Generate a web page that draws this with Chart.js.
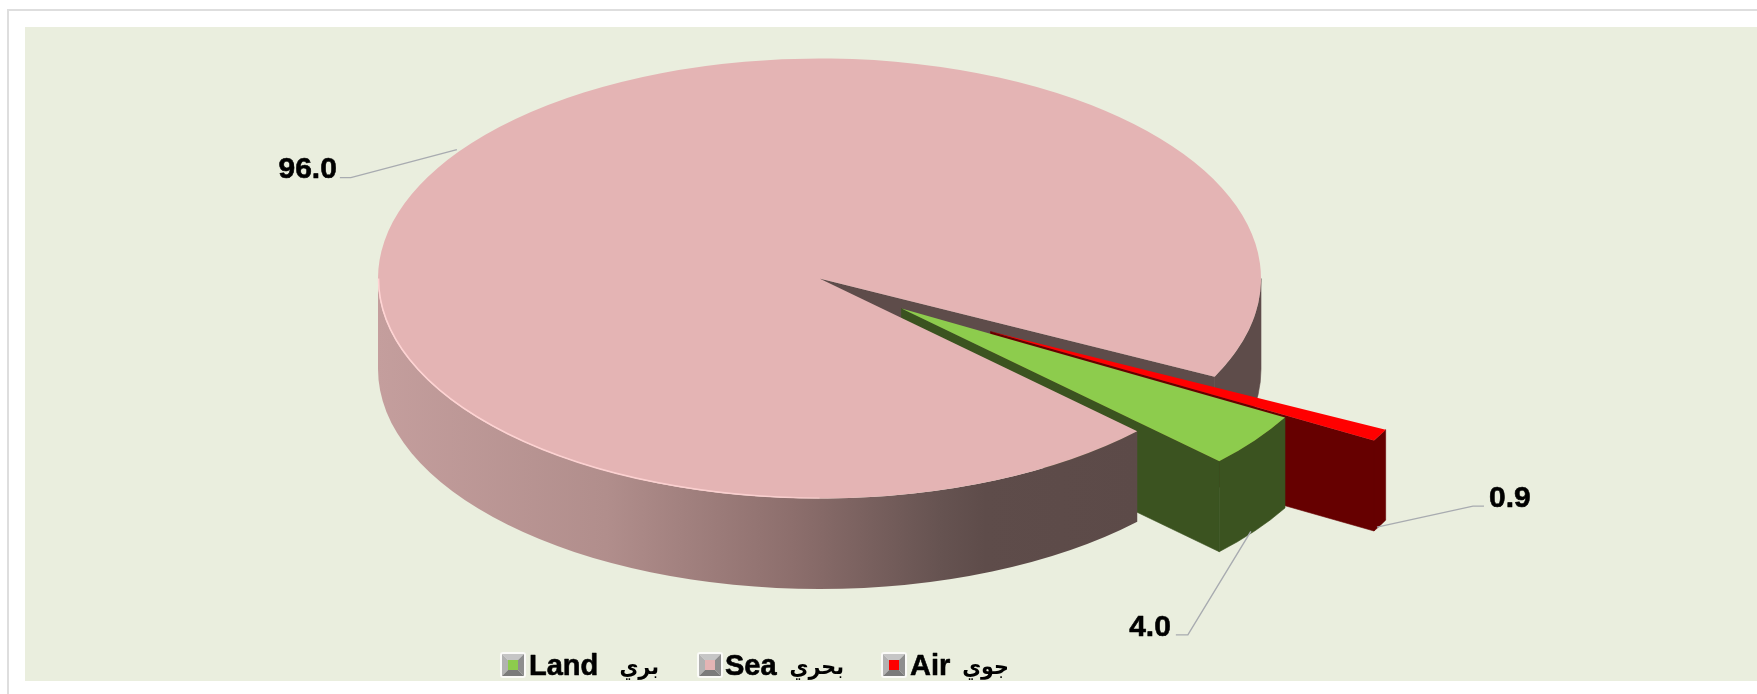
<!DOCTYPE html>
<html lang="ar">
<head>
<meta charset="utf-8">
<style>
html,body{margin:0;padding:0;width:1757px;height:694px;background:#fff;overflow:hidden}
#frame{position:absolute;left:7px;top:9px;width:1750px;height:685px;box-sizing:border-box;border-left:2px solid #dedede;border-top:2px solid #dedede}
#panel{position:absolute;left:25px;top:27px;width:1732px;height:654px;background:#eaeede}
#wrap{position:absolute;left:0;top:0;width:1757px;height:694px}
</style>
</head>
<body>
<div id="frame"></div><div id="panel"></div>
<div id="wrap"><canvas id="c" width="1757" height="694"></canvas></div>
<script src="https://cdn.jsdelivr.net/npm/chart.js@4"></script>
<script>
const categories = ['Land', 'Sea', 'Air'];
const categoriesArabic = ['بري', 'بحري', 'جوي'];
const values = [4.0, 96.0, 0.9];
const topColors = ['#8dcc4d', '#e4b4b4', '#ff0000'];
const wallColors = ['#3b5320', '#5e4c4a', '#660000'];
const explodeX = [82, 0, 171];
const explodeY = [30, 0, 53];
const leaderStart = [[-4, 91], [-2, -2], [-3, 92]];
const leaderElbow = [[-67, 194.5], [-108, 26], [93, 71]];
const leaderEnd = [[-79, 194.5], [-119, 26], [104, 71]];
const labelAt = [[-84, 187.5, 'right'], [-122, 18, 'right'], [109, 64, 'left']];
const legendBoxX = [501, 698, 882];
const legendTextX = [529, 725, 910];
const legendArabicRight = [659, 844, 1009];
const LEGEND_Y = 667;

const FONT = 'Arial, "Liberation Sans", sans-serif';
const ARABIC_FONT = '"DejaVu Sans Condensed", "DejaVu Sans", sans-serif';
const SQUASH = 220 / 441.5, DEPTH = 90.5;

function drawLegendIcon(g, x, y, color) {
  const s = 24, b = 7;
  g.fillStyle = '#fbfbf8';
  g.beginPath(); g.roundRect(x - 1, y - 1, s + 2, s + 2, 3); g.fill();
  const poly = (pts, f) => { g.fillStyle = f; g.beginPath(); pts.forEach((p, i) => i ? g.lineTo(p[0], p[1]) : g.moveTo(p[0], p[1])); g.closePath(); g.fill(); };
  const a = x + 1, d = y + 1, w = s - 2;
  poly([[a, d], [a + w, d], [a + w - b, d + b], [a + b, d + b]], '#c6c6c6');
  poly([[a, d], [a + b, d + b], [a + b, d + w - b], [a, d + w]], '#b2b2b2');
  poly([[a + w, d], [a + w, d + w], [a + w - b, d + w - b], [a + w - b, d + b]], '#8e8e8e');
  poly([[a, d + w], [a + b, d + w - b], [a + w - b, d + w - b], [a + w, d + w]], '#7b7b7b');
  g.fillStyle = color;
  g.fillRect(a + b - 1, d + b - 1, w - 2 * b + 2, w - 2 * b + 2);
}

const pie3d = {
  id: 'pie3d',
  beforeDatasetDraw(chart) {
    const ctx = chart.ctx;
    const arcs = chart.getDatasetMeta(0).data;
    const rim = (i, a) => {
      const e = arcs[i], r = e.outerRadius;
      return [e.x + explodeX[i] + r * Math.cos(a), e.y + explodeY[i] + SQUASH * r * Math.sin(a)];
    };
    const paint = fill => {
      ctx.fillStyle = fill; ctx.strokeStyle = fill; ctx.lineWidth = 0.6;
      ctx.fill(); ctx.stroke();
    };
    const radialWall = (i, a) => {
      const e = arcs[i], ax = e.x + explodeX[i], ay = e.y + explodeY[i];
      const p = rim(i, a);
      ctx.beginPath();
      ctx.moveTo(ax, ay); ctx.lineTo(p[0], p[1]); ctx.lineTo(p[0], p[1] + DEPTH); ctx.lineTo(ax, ay + DEPTH);
      ctx.closePath(); paint(wallColors[i]);
    };
    const curvedWall = (i, a0, a1, fill) => {
      const e = arcs[i], r = e.outerRadius, ax = e.x + explodeX[i], ay = e.y + explodeY[i];
      ctx.beginPath();
      ctx.ellipse(ax, ay, r, r * SQUASH, 0, a0, a1);
      ctx.ellipse(ax, ay + DEPTH, r, r * SQUASH, 0, a1, a0, true);
      ctx.closePath();
      if (fill) { ctx.fillStyle = fill; ctx.fill(); } else { paint(wallColors[i]); }
    };
    const top = i => {
      const e = arcs[i];
      ctx.save();
      ctx.translate(e.x + explodeX[i], e.y + explodeY[i]);
      ctx.scale(1, SQUASH);
      ctx.translate(-e.x, -e.y);
      e.draw(ctx);
      ctx.restore();
    };
    const TAU = Math.PI * 2;
    const land = arcs[0], sea = arcs[1], air = arcs[2];
    radialWall(1, sea.endAngle);
    curvedWall(1, 0, sea.endAngle - TAU);
    radialWall(2, air.endAngle);
    curvedWall(2, air.startAngle, air.endAngle);
    top(2);
    radialWall(0, land.endAngle);
    curvedWall(0, land.startAngle, land.endAngle);
    top(0);
    const lx = sea.x - sea.outerRadius;
    const g = ctx.createLinearGradient(lx, 0, sea.x + sea.outerRadius * 0.72, 0);
    g.addColorStop(0, '#c49e9d');
    g.addColorStop(0.3, '#b18e8c');
    g.addColorStop(0.55, '#8c6e6c');
    g.addColorStop(0.74, '#665351');
    g.addColorStop(0.8, '#5e4c4a');
    g.addColorStop(1, '#5c4a48');
    curvedWall(1, sea.startAngle, Math.PI, g);
    top(1);
    const h = ctx.createLinearGradient(lx, 0, sea.x + 60, 0);
    h.addColorStop(0, 'rgba(255,212,212,1)');
    h.addColorStop(0.8, 'rgba(255,212,212,0.8)');
    h.addColorStop(1, 'rgba(255,212,212,0)');
    ctx.strokeStyle = h; ctx.lineWidth = 1.6;
    ctx.beginPath();
    ctx.ellipse(sea.x, sea.y, sea.outerRadius - 0.5, sea.outerRadius * SQUASH - 0.5, 0, Math.PI, Math.PI / 2, true);
    ctx.stroke();
    return false;
  },
  afterDatasetsDraw(chart) {
    const ctx = chart.ctx;
    const arcs = chart.getDatasetMeta(0).data;
    const heavyText = (t, x, y) => {
      ctx.fillText(t, x, y);
      ctx.strokeStyle = '#000'; ctx.lineWidth = 0.6; ctx.lineJoin = 'round';
      ctx.strokeText(t, x, y);
    };
    arcs.forEach((e, i) => {
      const mid = (e.startAngle + e.endAngle) / 2;
      const ax = e.x + explodeX[i] + e.outerRadius * Math.cos(mid);
      const ay = e.y + explodeY[i] + SQUASH * e.outerRadius * Math.sin(mid);
      ctx.save();
      ctx.strokeStyle = '#a8abb0';
      ctx.lineWidth = 1.4;
      ctx.beginPath();
      ctx.moveTo(ax + leaderStart[i][0], ay + leaderStart[i][1]);
      ctx.lineTo(ax + leaderElbow[i][0], ay + leaderElbow[i][1]);
      ctx.lineTo(ax + leaderEnd[i][0], ay + leaderEnd[i][1]);
      ctx.stroke();
      ctx.fillStyle = '#000';
      ctx.font = 'bold 30px ' + FONT;
      ctx.textBaseline = 'middle';
      ctx.textAlign = labelAt[i][2];
      heavyText(values[i].toFixed(1), ax + labelAt[i][0], ay + labelAt[i][1]);
      ctx.restore();
    });
    categories.forEach((t, i) => {
      drawLegendIcon(ctx, legendBoxX[i], 653, topColors[i]);
      ctx.save();
      ctx.fillStyle = '#000';
      ctx.textBaseline = 'middle';
      ctx.textAlign = 'left';
      ctx.font = 'bold 29px ' + FONT;
      heavyText(t, legendTextX[i], LEGEND_Y);
      ctx.textAlign = 'right';
      ctx.font = 'bold 23px ' + ARABIC_FONT;
      ctx.fillText(categoriesArabic[i], legendArabicRight[i], LEGEND_Y + 1);
      ctx.restore();
    });
  }
};

new Chart(document.getElementById('c'), {
  type: 'pie',
  data: {
    labels: categories,
    datasets: [{ data: values, backgroundColor: topColors, borderWidth: 0, radius: 441.5 }]
  },
  options: {
    responsive: false,
    animation: false,
    rotation: 119.7,
    layout: { padding: { left: 0, right: 118, top: 0, bottom: 137 } },
    plugins: { tooltip: { enabled: false }, legend: { display: false } }
  },
  plugins: [pie3d]
});
</script>
</body>
</html>
